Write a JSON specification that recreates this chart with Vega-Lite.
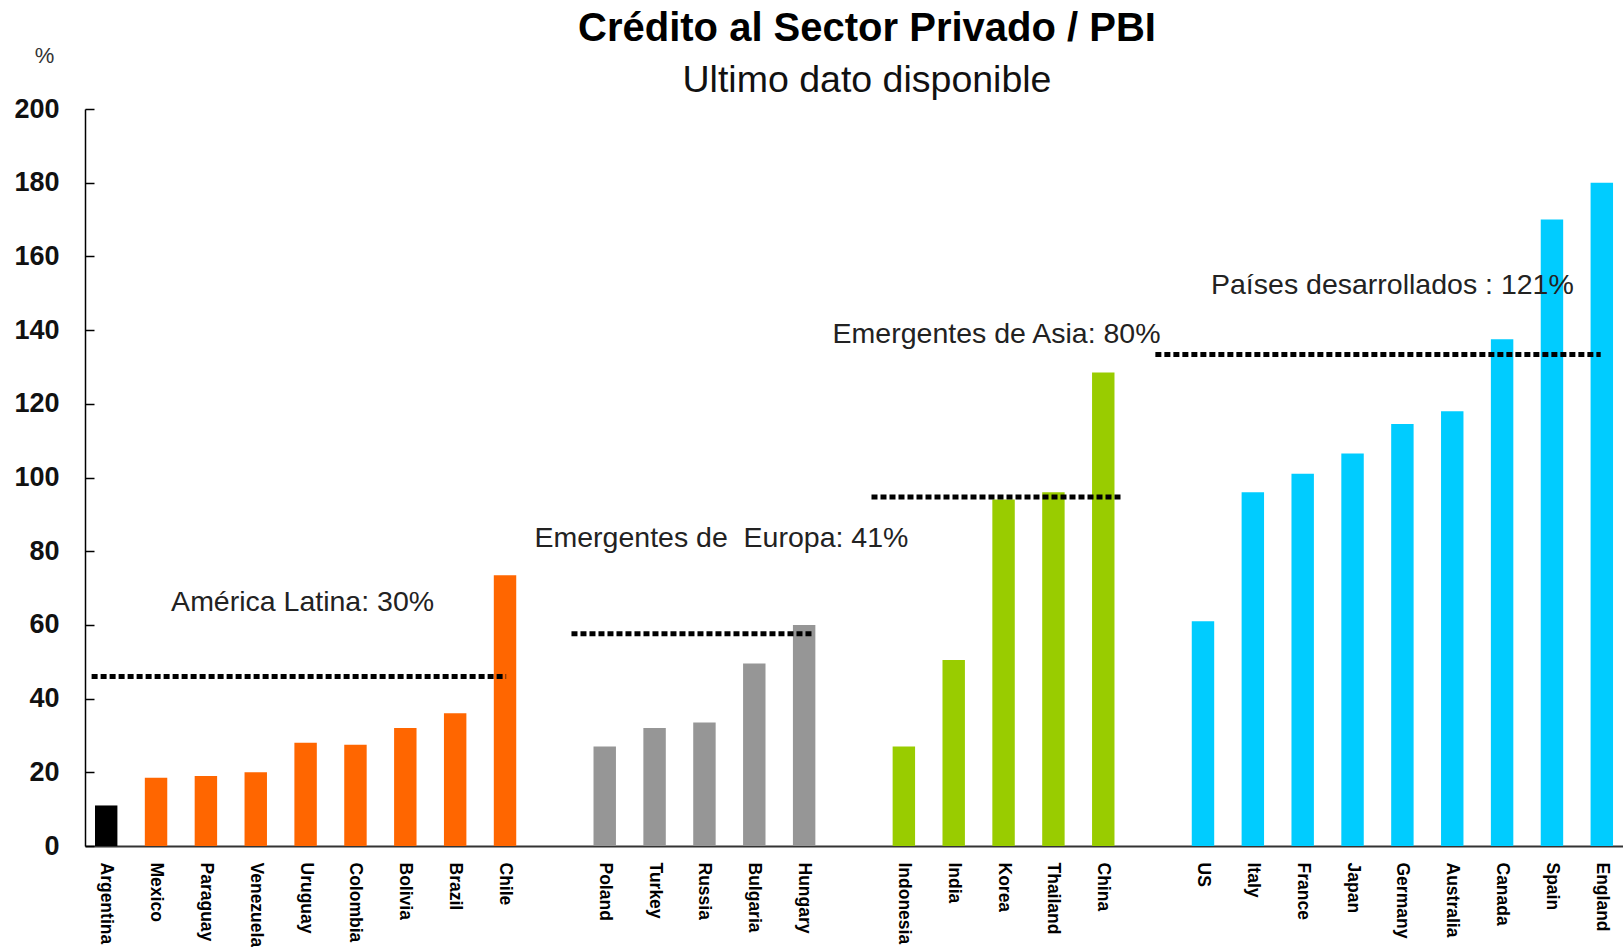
{
  "$schema": "https://vega.github.io/schema/vega-lite/v6.json",
  "width": 1538,
  "height": 737,
  "autosize": {"type": "none"},
  "padding": {"left": 85, "top": 109, "right": 0, "bottom": 101},
  "background": "white",
  "title": {
    "text": "Crédito al Sector Privado / PBI",
    "subtitle": "Ultimo dato disponible",
    "anchor": "middle",
    "frame": "group",
    "dx": 13,
    "offset": -55,
    "font": "Liberation Sans",
    "fontSize": 40,
    "fontWeight": "bold",
    "color": "#000000",
    "subtitleFont": "Liberation Sans",
    "subtitleFontSize": 37.5,
    "subtitleColor": "#111111",
    "subtitlePadding": 13
  },
  "datasets": {
    "bars": [
      {"country": "Argentina", "value": 11, "group": "Argentina"},
      {"country": "Mexico", "value": 18.5, "group": "América Latina"},
      {"country": "Paraguay", "value": 19, "group": "América Latina"},
      {"country": "Venezuela", "value": 20, "group": "América Latina"},
      {"country": "Uruguay", "value": 28, "group": "América Latina"},
      {"country": "Colombia", "value": 27.5, "group": "América Latina"},
      {"country": "Bolivia", "value": 32, "group": "América Latina"},
      {"country": "Brazil", "value": 36, "group": "América Latina"},
      {"country": "Chile", "value": 73.5, "group": "América Latina"},
      {"country": "Poland", "value": 27, "group": "Europa"},
      {"country": "Turkey", "value": 32, "group": "Europa"},
      {"country": "Russia", "value": 33.5, "group": "Europa"},
      {"country": "Bulgaria", "value": 49.5, "group": "Europa"},
      {"country": "Hungary", "value": 60, "group": "Europa"},
      {"country": "Indonesia", "value": 27, "group": "Asia"},
      {"country": "India", "value": 50.5, "group": "Asia"},
      {"country": "Korea", "value": 94, "group": "Asia"},
      {"country": "Thailand", "value": 96, "group": "Asia"},
      {"country": "China", "value": 128.5, "group": "Asia"},
      {"country": "US", "value": 61, "group": "Desarrollados"},
      {"country": "Italy", "value": 96, "group": "Desarrollados"},
      {"country": "France", "value": 101, "group": "Desarrollados"},
      {"country": "Japan", "value": 106.5, "group": "Desarrollados"},
      {"country": "Germany", "value": 114.5, "group": "Desarrollados"},
      {"country": "Australia", "value": 118, "group": "Desarrollados"},
      {"country": "Canada", "value": 137.5, "group": "Desarrollados"},
      {"country": "Spain", "value": 170, "group": "Desarrollados"},
      {"country": "England", "value": 180, "group": "Desarrollados"}
    ],
    "avgs": [
      {"region": "América Latina", "start": "Argentina", "end": "Chile", "value": 46},
      {"region": "Europa", "start": " ", "end": "Hungary", "value": 57.6},
      {"region": "Asia", "start": "  ", "end": "China", "value": 94.7},
      {"region": "Desarrollados", "start": "   ", "end": "England", "value": 133.4}
    ],
    "notes": [
      {"region": "América Latina", "label": "América Latina: 30%", "anchor": "Uruguay", "value": 66.3},
      {"region": "Europa", "label": "Emergentes de\u00a0 Europa: 41%", "anchor": "Russia", "value": 83.7},
      {"region": "Asia", "label": "Emergentes de Asia: 80%", "anchor": "Korea", "value": 139},
      {"region": "Desarrollados", "label": "Países desarrollados : 121%", "anchor": "Germany", "value": 152.2}
    ]
  },
  "config": {
    "view": {"stroke": null},
    "axisX": {
      "ticks": false,
      "domainColor": "#333333",
      "domainWidth": 2,
      "labelAngle": 90,
      "labelAlign": "left",
      "labelBaseline": "middle",
      "labelFont": "Liberation Sans",
      "labelFontSize": 17.5,
      "labelFontWeight": "bold",
      "labelColor": "#000000",
      "labelPadding": 16,
      "labelLimit": 0,
      "labelOverlap": false,
      "grid": false
    },
    "axisY": {
      "grid": false,
      "domainColor": "#000000",
      "domainWidth": 1.5,
      "tickColor": "#000000",
      "tickWidth": 1.5,
      "tickSize": -9,
      "labelFont": "Liberation Sans",
      "labelFontSize": 27,
      "labelFontWeight": "bold",
      "labelColor": "#111111",
      "labelPadding": 35,
      "titleAngle": 0,
      "titleX": -41,
      "titleY": -54,
      "titleAlign": "center",
      "titleBaseline": "middle",
      "titleFont": "Liberation Sans",
      "titleFontSize": 22,
      "titleFontWeight": "normal",
      "titleColor": "#333333"
    },
    "rule": {"color": "#000000", "strokeWidth": 5, "strokeDash": [6, 3]},
    "text": {"font": "Liberation Sans", "fontSize": 28.5, "color": "#222222", "align": "center", "baseline": "middle"}
  },
  "layer": [
    {
      "data": {"name": "bars"},
      "mark": {"type": "bar"},
      "encoding": {
        "x": {
          "field": "country",
          "type": "nominal",
          "scale": {
            "domain": ["Argentina", "Mexico", "Paraguay", "Venezuela", "Uruguay", "Colombia", "Bolivia", "Brazil", "Chile", " ", "Poland", "Turkey", "Russia", "Bulgaria", "Hungary", "  ", "Indonesia", "India", "Korea", "Thailand", "China", "   ", "US", "Italy", "France", "Japan", "Germany", "Australia", "Canada", "Spain", "England"],
            "paddingInner": 0.55,
            "paddingOuter": 0.2
          },
          "axis": {"title": null}
        },
        "y": {
          "field": "value",
          "type": "quantitative",
          "scale": {"domain": [0, 200], "nice": false},
          "axis": {"title": "%", "values": [0, 20, 40, 60, 80, 100, 120, 140, 160, 180, 200]}
        },
        "color": {
          "field": "group",
          "type": "nominal",
          "scale": {
            "domain": ["Argentina", "América Latina", "Europa", "Asia", "Desarrollados"],
            "range": ["#000000", "#FF6600", "#969696", "#99CC00", "#00CCFF"]
          },
          "legend": null
        }
      }
    },
    {
      "data": {"name": "avgs"},
      "transform": [{"filter": "datum.region === 'América Latina'"}],
      "mark": {"type": "rule"},
      "encoding": {
        "x": {"field": "start", "type": "nominal", "bandPosition": -0.15},
        "x2": {"field": "end", "bandPosition": 0.55},
        "y": {"field": "value", "type": "quantitative"}
      }
    },
    {
      "data": {"name": "avgs"},
      "transform": [{"filter": "datum.region === 'Europa'"}],
      "mark": {"type": "rule"},
      "encoding": {
        "x": {"field": "start", "type": "nominal", "bandPosition": 1.24},
        "x2": {"field": "end", "bandPosition": 0.96},
        "y": {"field": "value", "type": "quantitative"}
      }
    },
    {
      "data": {"name": "avgs"},
      "transform": [{"filter": "datum.region === 'Asia'"}],
      "mark": {"type": "rule"},
      "encoding": {
        "x": {"field": "start", "type": "nominal", "bandPosition": 1.28},
        "x2": {"field": "end", "bandPosition": 1.28},
        "y": {"field": "value", "type": "quantitative"}
      }
    },
    {
      "data": {"name": "avgs"},
      "transform": [{"filter": "datum.region === 'Desarrollados'"}],
      "mark": {"type": "rule"},
      "encoding": {
        "x": {"field": "start", "type": "nominal", "bandPosition": 0.6},
        "x2": {"field": "end", "bandPosition": 0.45},
        "y": {"field": "value", "type": "quantitative"}
      }
    },
    {
      "data": {"name": "notes"},
      "transform": [{"filter": "datum.region === 'América Latina'"}],
      "mark": {"type": "text", "dx": -3},
      "encoding": {
        "x": {"field": "anchor", "type": "nominal"},
        "y": {"field": "value", "type": "quantitative"},
        "text": {"field": "label"}
      }
    },
    {
      "data": {"name": "notes"},
      "transform": [{"filter": "datum.region === 'Europa'"}],
      "mark": {"type": "text", "dx": 17},
      "encoding": {
        "x": {"field": "anchor", "type": "nominal"},
        "y": {"field": "value", "type": "quantitative"},
        "text": {"field": "label"}
      }
    },
    {
      "data": {"name": "notes"},
      "transform": [{"filter": "datum.region === 'Asia'"}],
      "mark": {"type": "text", "dx": -7},
      "encoding": {
        "x": {"field": "anchor", "type": "nominal"},
        "y": {"field": "value", "type": "quantitative"},
        "text": {"field": "label"}
      }
    },
    {
      "data": {"name": "notes"},
      "transform": [{"filter": "datum.region === 'Desarrollados'"}],
      "mark": {"type": "text", "dx": -10},
      "encoding": {
        "x": {"field": "anchor", "type": "nominal"},
        "y": {"field": "value", "type": "quantitative"},
        "text": {"field": "label"}
      }
    }
  ]
}
